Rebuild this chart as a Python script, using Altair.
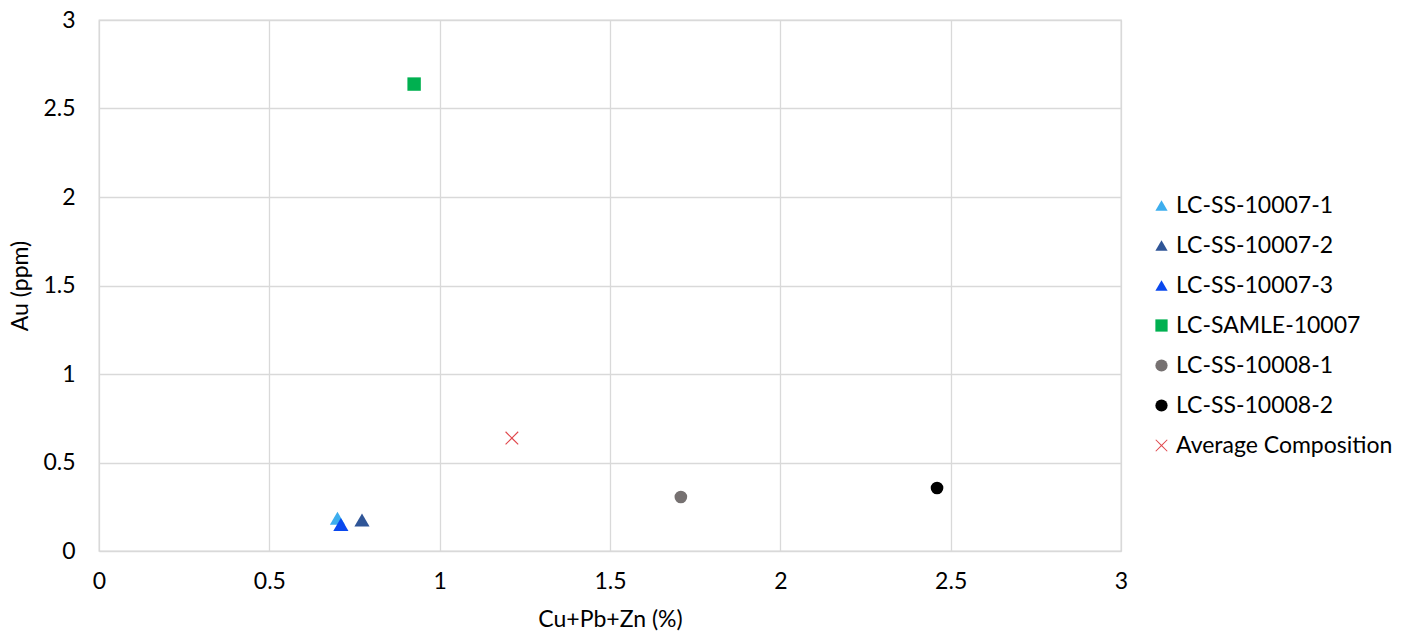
import altair as alt
import pandas as pd

series = ["LC-SS-10007-1", "LC-SS-10007-2", "LC-SS-10007-3", "LC-SAMLE-10007",
          "LC-SS-10008-1", "LC-SS-10008-2", "Average Composition"]
x_vals = [0.70, 0.772, 0.71, 0.925, 1.708, 2.46, 1.212]
y_vals = [0.185, 0.175, 0.15, 2.638, 0.305, 0.356, 0.638]
colors = ["#3DAEEE", "#2F5597", "#0A48EE", "#00B050", "#767171", "#000000", "#E0474C"]
xpath = ("M-1,-0.88L-0.88,-1L0,-0.12L0.88,-1L1,-0.88L0.12,0L1,0.88L0.88,1"
         "L0,0.12L-0.88,1L-1,0.88L-0.12,0Z")
shapes = ["triangle-up", "triangle-up", "triangle-up", "square", "circle", "circle", xpath]
sizes = [230, 230, 230, 180, 160, 160, 180]
tick_vals = [0, 0.5, 1, 1.5, 2, 2.5, 3]

df = pd.DataFrame({"series": series, "x": x_vals, "y": y_vals, "sz": sizes})

FONT = "Lato"
FS = 23

chart = alt.Chart(df).mark_point(filled=True, opacity=1).encode(
    x=alt.X("x:Q", title="Cu+Pb+Zn (%)",
            scale=alt.Scale(domain=[0, 3], nice=False, zero=True),
            axis=alt.Axis(values=tick_vals, format=".1~f", ticks=False, domain=False,
                          labelFlush=False, labelPadding=19, titlePadding=15)),
    y=alt.Y("y:Q", title="Au (ppm)",
            scale=alt.Scale(domain=[0, 3], nice=False),
            axis=alt.Axis(values=tick_vals, format=".1~f", ticks=False, domain=False,
                          labelPadding=24, titlePadding=10)),
    color=alt.Color("series:N", title=None,
                    scale=alt.Scale(domain=series, range=colors),
                    legend=alt.Legend(orient="none", legendX=1051, legendY=174,
                                      labelFontSize=FS, labelFont=FONT, labelColor="#000000",
                                      symbolSize=150, rowPadding=16, labelOffset=3,
                                      labelLimit=400)),
    shape=alt.Shape("series:N", scale=alt.Scale(domain=series, range=shapes)),
    size=alt.Size("sz:Q", scale=None, legend=None),
).properties(
    width=1022, height=531,
    autosize=alt.AutoSizeParams(type="none"),
    padding={"left": 99, "top": 20, "right": 295, "bottom": 86},
).configure_axis(
    gridColor="#D9D9D9", gridWidth=1.3,
    labelFont=FONT, labelFontSize=FS, labelColor="#000000",
    titleFont=FONT, titleFontSize=FS, titleColor="#000000", titleFontWeight="normal",
).configure_view(stroke="#D9D9D9", strokeWidth=1.3)

chart.save("out.html", embed_options={"renderer": "svg", "actions": False})
